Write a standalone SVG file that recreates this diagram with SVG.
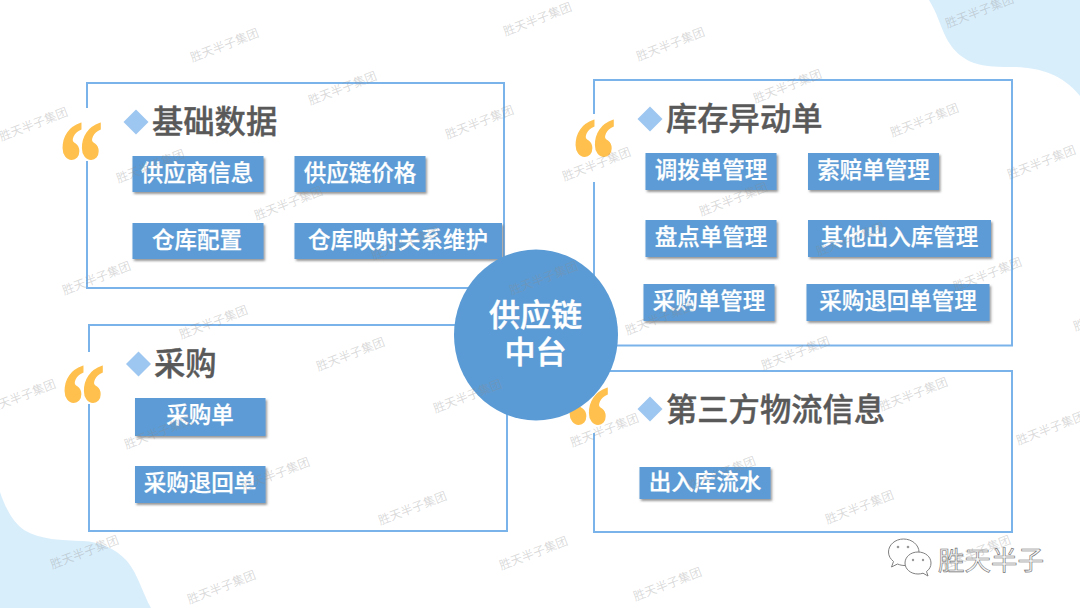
<svg xmlns="http://www.w3.org/2000/svg" width="1080" height="608" viewBox="0 0 1080 608">
<style>
text{font-family:"Noto Sans CJK SC","Noto Sans",sans-serif}
.frame{fill:none;stroke:#7ab3ea;stroke-width:2}
.gap{fill:#fff}
.q{font-family:"Liberation Serif",serif;font-weight:700;font-size:100px;fill:#ffc04d;stroke:#ffc04d;stroke-width:1.5;text-anchor:middle}
.d{fill:#9dc6f0}
.t{font-size:31.300px;font-weight:500;fill:#595959;stroke:#595959;stroke-width:.4}
.b{fill:#5b9bd5;filter:url(#sh)}
.l{font-size:22.500px;font-weight:500;fill:#fff;stroke:#fff;stroke-width:.25;text-anchor:middle;dominant-baseline:central}
.c{font-size:31px;font-weight:500;fill:#fff;stroke:#fff;stroke-width:.5;text-anchor:middle;dominant-baseline:central}
.w text{font-size:12px;fill:#8c8c8c;fill-opacity:.32;text-anchor:middle;dominant-baseline:central}
.blob{fill:#d9eefb}
.wx{fill:#fff;stroke:#808080;stroke-width:1}
.wxt{font-size:26.500px;fill:#f6f6f6;stroke:#707070;stroke-width:.6;dominant-baseline:central}
</style>
<defs>
<filter id="sh" x="-5%" y="-10%" width="112%" height="130%"><feDropShadow dx="1.5" dy="2" stdDeviation="1.2" flood-color="#555" flood-opacity=".6"/></filter>
</defs>
<rect width="1080" height="608" fill="#fff"/>
<path class="blob" d="M929 0C935 10 938 18 941 26C948 44 956 56 974 63C985 67 1000 67 1015 67C1040 68 1062 74 1080 96L1080 0Z"/>
<path class="blob" d="M0 492C6 510 14 523 24 530C40 540 62 540 83 541C100 542 115 548 127 561C138 574 143 594 151 608L0 608Z"/>

<g id="node-jichu">
<rect class="frame" x="87" y="83" width="417" height="205"/>
<rect class="gap" x="80" y="108" width="14" height="53"/>
<text class="q" transform="translate(81 201) scale(.88 1.17)">“</text>
<path class="d" d="M136 109.500L148.500 122L136 134.500L123.500 122Z"/>
<text class="t" x="152" y="133">基础数据</text>
<rect class="b" x="132.500" y="156" width="131" height="36"/><text class="l" x="197" y="170.500">供应商信息</text>
<rect class="b" x="294.500" y="156" width="131" height="36"/><text class="l" x="360" y="170.500">供应链价格</text>
<rect class="b" x="132.500" y="223" width="131" height="36"/><text class="l" x="197" y="237.500">仓库配置</text>
<rect class="b" x="294.500" y="223" width="207.500" height="36"/><text class="l" x="398" y="237.500">仓库映射关系维护</text>
</g>

<g id="node-kucun">
<rect class="frame" x="594" y="80" width="418" height="265.500"/>
<rect class="gap" x="587" y="114" width="14" height="68"/>
<text class="q" transform="translate(594 198) scale(.88 1.17)">“</text>
<path class="d" d="M650 106.500L662.500 119L650 131.500L637.500 119Z"/>
<text class="t" x="666" y="130">库存异动单</text>
<rect class="b" x="645.500" y="153" width="131" height="37"/><text class="l" x="711" y="168">调拨单管理</text>
<rect class="b" x="808" y="153" width="131" height="37"/><text class="l" x="873.500" y="168">索赔单管理</text>
<rect class="b" x="645.500" y="220" width="131" height="37"/><text class="l" x="711" y="234.500">盘点单管理</text>
<rect class="b" x="808" y="220" width="183" height="37"/><text class="l" x="899.500" y="234.500">其他出入库管理</text>
<rect class="b" x="643.500" y="284" width="131" height="37"/><text class="l" x="709" y="298.500">采购单管理</text>
<rect class="b" x="806.500" y="284" width="183" height="37"/><text class="l" x="898" y="298.500">采购退回单管理</text>
</g>

<g id="node-caigou">
<rect class="frame" x="89" y="325" width="418" height="206"/>
<rect class="gap" x="82" y="352" width="14" height="52"/>
<text class="q" transform="translate(83 444) scale(.88 1.17)">“</text>
<path class="d" d="M138.500 351.500L151 364L138.500 376.500L126 364Z"/>
<text class="t" x="154" y="375">采购</text>
<rect class="b" x="135" y="398" width="130.500" height="38"/><text class="l" x="200" y="412.500">采购单</text>
<rect class="b" x="135" y="466" width="130.500" height="37"/><text class="l" x="200" y="480.500">采购退回单</text>
</g>

<g id="node-wuliu">
<rect class="frame" x="594" y="371" width="418" height="161"/>
<rect class="gap" x="587" y="385" width="14" height="48"/>
<text class="q" transform="translate(588 466) scale(.88 1.17)">“</text>
<path class="d" d="M650 396.500L662.500 409L650 421.500L637.500 409Z"/>
<text class="t" x="666" y="421">第三方物流信息</text>
<rect class="b" x="639.500" y="467" width="131" height="32"/><text class="l" x="705" y="479.500">出入库流水</text>
</g>

<g id="node-center">
<ellipse cx="536" cy="335" rx="82" ry="85.500" fill="#5b9bd5"/>
<text class="c" x="535.500" y="312">供应链</text>
<text class="c" x="535.500" y="349">中台</text>
</g>

<g id="wechat-mark">
<path class="wx" d="M903.500 539C895 539 888.500 545 888.500 552C888.500 556 890.500 559 893.500 561.500L891.500 567L897.500 564C900 565 902 565.500 905 565.500C912 565.500 919 560 919 552C919 545 912 539 903.500 539Z"/>
<path class="wx" d="M918 552C910.500 552 905 557 905 563C905 569 910.500 574 918 574C920 574 921.500 573.700 923 573.200L928 576L926.500 571.500C929.500 569.500 931 566.500 931 563C931 557 925.500 552 918 552Z"/>
<circle cx="898" cy="547" r="1.300" fill="#999"/><circle cx="908" cy="547" r="1.300" fill="#999"/>
<circle cx="913" cy="560" r="1.200" fill="#999"/><circle cx="923" cy="560" r="1.200" fill="#999"/>
<text class="wxt" x="938" y="558">胜天半子</text>
</g>

<g id="connectors"></g>

<g id="watermarks" class="w">
<text transform="translate(224 44) rotate(-21)">胜天半子集团</text>
<text transform="translate(342 87) rotate(-21)">胜天半子集团</text>
<text transform="translate(479 121) rotate(-21)">胜天半子集团</text>
<text transform="translate(33 123) rotate(-21)">胜天半子集团</text>
<text transform="translate(150 165) rotate(-21)">胜天半子集团</text>
<text transform="translate(288 202) rotate(-21)">胜天半子集团</text>
<text transform="translate(405 242) rotate(-21)">胜天半子集团</text>
<text transform="translate(96 277) rotate(-21)">胜天半子集团</text>
<text transform="translate(537 18) rotate(-21)">胜天半子集团</text>
<text transform="translate(543 277) rotate(-21)">胜天半子集团</text>
<text transform="translate(670 43) rotate(-21)">胜天半子集团</text>
<text transform="translate(787 85) rotate(-21)">胜天半子集团</text>
<text transform="translate(924 119) rotate(-21)">胜天半子集团</text>
<text transform="translate(979 10) rotate(-21)">胜天半子集团</text>
<text transform="translate(596 163) rotate(-21)">胜天半子集团</text>
<text transform="translate(733 198) rotate(-21)">胜天半子集团</text>
<text transform="translate(850 238) rotate(-21)">胜天半子集团</text>
<text transform="translate(987 273) rotate(-21)">胜天半子集团</text>
<text transform="translate(1041 161) rotate(-21)">胜天半子集团</text>
<text transform="translate(213 321) rotate(-21)">胜天半子集团</text>
<text transform="translate(350 353) rotate(-21)">胜天半子集团</text>
<text transform="translate(467 395) rotate(-21)">胜天半子集团</text>
<text transform="translate(21 395) rotate(-21)">胜天半子集团</text>
<text transform="translate(158 431) rotate(-21)">胜天半子集团</text>
<text transform="translate(275 473) rotate(-21)">胜天半子集团</text>
<text transform="translate(412 507) rotate(-21)">胜天半子集团</text>
<text transform="translate(84 551) rotate(-21)">胜天半子集团</text>
<text transform="translate(221 586) rotate(-21)">胜天半子集团</text>
<text transform="translate(533 552) rotate(-21)">胜天半子集团</text>
<text transform="translate(659 317) rotate(-21)">胜天半子集团</text>
<text transform="translate(795 352) rotate(-21)">胜天半子集团</text>
<text transform="translate(913 393) rotate(-21)">胜天半子集团</text>
<text transform="translate(604 429) rotate(-21)">胜天半子集团</text>
<text transform="translate(721 472) rotate(-21)">胜天半子集团</text>
<text transform="translate(859 506) rotate(-21)">胜天半子集团</text>
<text transform="translate(1050 427) rotate(-21)">胜天半子集团</text>
<text transform="translate(976 551) rotate(-21)">胜天半子集团</text>
<text transform="translate(667 583) rotate(-21)">胜天半子集团</text>
<text transform="translate(1107 313) rotate(-21)">胜天半子集团</text>
</g>
</svg>
